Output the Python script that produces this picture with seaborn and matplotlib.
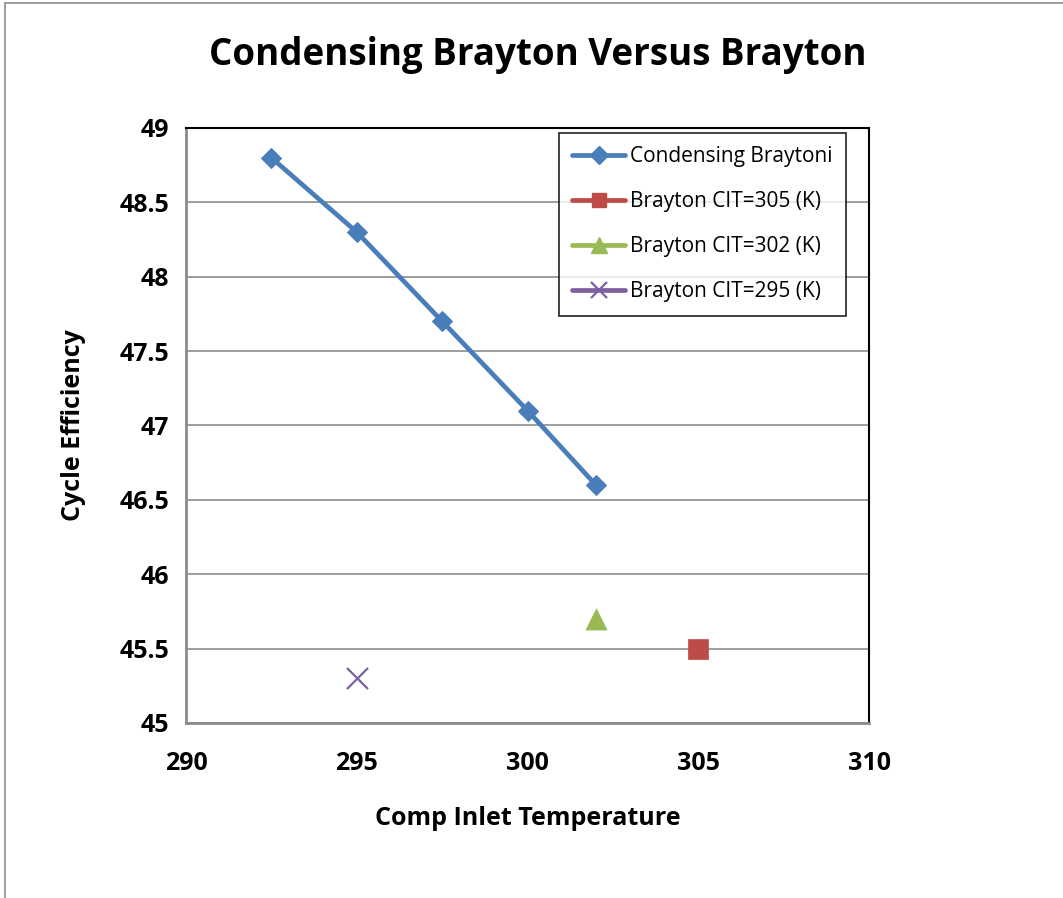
import matplotlib
matplotlib.use("Agg")
import matplotlib.pyplot as plt
import seaborn as sns
import pandas as pd
from matplotlib.lines import Line2D
from matplotlib.patches import Rectangle

# Condensing Brayton cycle: efficiency vs compressor inlet temperature
cond_temp = [292.5, 295.0, 297.5, 300.0, 302.0]
cond_eff = [48.8, 48.3, 47.7, 47.1, 46.6]

# Conventional Brayton single points
brayton_labels = ["Brayton CIT=305 (K)", "Brayton CIT=302 (K)", "Brayton CIT=295 (K)"]
brayton_temp = [305.0, 302.0, 295.0]
brayton_eff = [45.5, 45.7, 45.3]

x_ticks = [290, 295, 300, 305, 310]
x_tick_labels = ["290", "295", "300", "305", "310"]
y_ticks = [45, 45.5, 46, 46.5, 47, 47.5, 48, 48.5, 49]
y_tick_labels = ["45", "45.5", "46", "46.5", "47", "47.5", "48", "48.5", "49"]

sns.set_style("white")
plt.rcParams["font.family"] = ["Open Sans", "DejaVu Sans"]
plt.rcParams["text.color"] = "black"
plt.rcParams["axes.labelcolor"] = "black"
plt.rcParams["xtick.color"] = "black"
plt.rcParams["ytick.color"] = "black"

blue = "#4a7ebb"
red = "#be4b48"
green = "#98b954"
purple = "#7d60a0"

fig = plt.figure(figsize=(10.63, 8.98), dpi=100)
ax = fig.add_axes([0.175, 0.195, 0.6425, 0.6625])

# chart outer border
fig.patches.append(Rectangle((0.005, -0.01), 1.2, 1.0065, transform=fig.transFigure,
                             fill=False, edgecolor="#8c8c8c", linewidth=1.2))

cond_df = pd.DataFrame({"temp": cond_temp, "eff": cond_eff})
sns.lineplot(data=cond_df, x="temp", y="eff", ax=ax, color=blue, linewidth=3.4,
             marker="D", markersize=10, markeredgecolor=blue, sort=False, zorder=5)

b_df = pd.DataFrame({"temp": brayton_temp, "eff": brayton_eff, "series": brayton_labels})
sns.scatterplot(data=b_df.iloc[[0]], x="temp", y="eff", ax=ax, color=red, marker="s",
                s=190, edgecolor=red, linewidth=0.5, zorder=5, legend=False)
sns.scatterplot(data=b_df.iloc[[1]], x="temp", y="eff", ax=ax, color=green, marker="^",
                s=230, edgecolor=green, linewidth=0.5, zorder=5, legend=False)
sns.scatterplot(data=b_df.iloc[[2]], x="temp", y="eff", ax=ax, color=purple, marker="x",
                s=230, linewidth=1.6, zorder=5, legend=False)

ax.set_xlim(290, 310)
ax.set_ylim(45, 49)
ax.set_xticks(x_ticks)
ax.set_xticklabels(x_tick_labels, fontsize=18, fontweight="bold")
ax.set_yticks(y_ticks)
ax.set_yticklabels(y_tick_labels, fontsize=18, fontweight="bold")
ax.tick_params(axis="both", length=0)
ax.tick_params(axis="y", pad=12)
ax.tick_params(axis="x", pad=20)

ax.grid(axis="y", color="#8c8c8c", linewidth=1.2)
ax.set_axisbelow(True)
for side in ["left", "bottom"]:
    ax.spines[side].set_color("#8c8c8c")
    ax.spines[side].set_linewidth(2.0)
for side in ["top", "right"]:
    ax.spines[side].set_color("black")
    ax.spines[side].set_linewidth(1.5)

ax.set_xlabel("Comp Inlet Temperature", fontsize=18, fontweight="bold", labelpad=22)
ax.set_ylabel("Cycle Efficiency", fontsize=18, fontweight="bold", labelpad=24)
fig.suptitle("Condensing Brayton Versus Brayton", fontsize=26.5, fontweight="bold",
             x=0.506, y=0.96)

handles = [
    Line2D([], [], color=blue, linewidth=3.4, marker="D", markersize=9),
    Line2D([], [], color=red, linewidth=3.4, marker="s", markersize=10),
    Line2D([], [], color=green, linewidth=3.4, marker="^", markersize=11),
    Line2D([], [], color=purple, linewidth=3.4, marker="x", markersize=11, markeredgewidth=1.6),
]
labels = ["Condensing Braytoni"] + brayton_labels
leg = ax.legend(handles, labels, loc="upper left", bbox_to_anchor=(0.546, 0.992),
                fontsize=15, frameon=True, fancybox=False, edgecolor="black",
                handlelength=2.5, handletextpad=0.25, labelspacing=1.15,
                borderpad=0.65, borderaxespad=0)
leg.get_frame().set_linewidth(1.3)

fig.savefig("out.png", dpi=100, facecolor="white")
